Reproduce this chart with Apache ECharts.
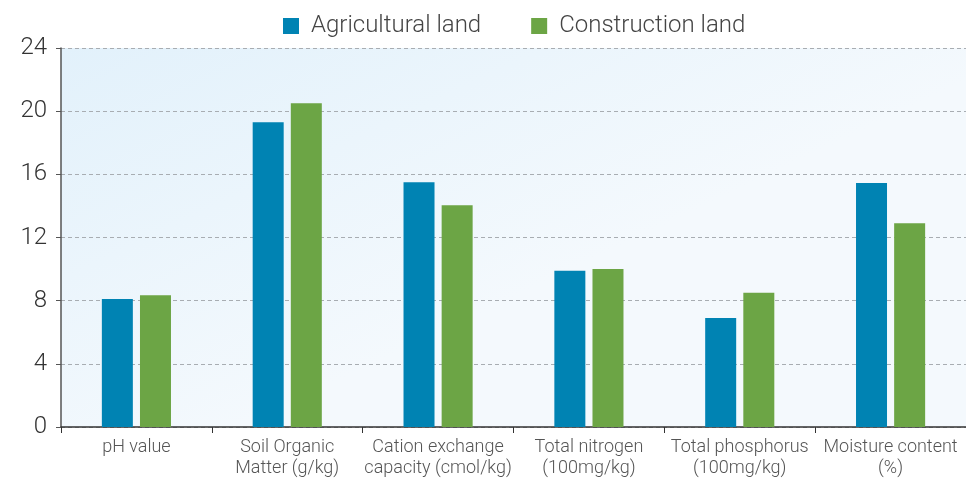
<!DOCTYPE html>
<html><head><meta charset="utf-8">
<script src="https://cdn.jsdelivr.net/npm/echarts@6/dist/echarts.min.js"></script>
<style>html,body{margin:0;padding:0;background:#fff}#c{width:966px;height:479px}</style>
</head><body><div id="c"></div>
<script>
const categories = ['pH value', 'Soil Organic\nMatter (g/kg)', 'Cation exchange\ncapacity (cmol/kg)', 'Total nitrogen\n(100mg/kg)', 'Total phosphorus\n(100mg/kg)', 'Moisture content\n(%)'];
const seriesNames = ['Agricultural land', 'Construction land'];
const agricultural = [8.1, 19.3, 15.5, 9.9, 6.9, 15.45];
const construction = [8.35, 20.5, 14.05, 10.0, 8.5, 12.9];
const yTicks = {min: 0, max: 24, interval: 4};

const chart = echarts.init(document.getElementById('c'));
const FONT = 'Roboto';
chart.setOption({
  animation: false,
  textStyle: {fontFamily: FONT},
  legend: {
    top: 14, left: 283, itemWidth: 16, itemHeight: 16, itemGap: 50,
    icon: 'rect', padding: 0,
    textStyle: {fontSize: 24, color: '#444', fontFamily: FONT, fontWeight: 300, padding: [0, 0, 0, 7]},
    data: seriesNames
  },
  grid: {
    left: 61, right: -1, top: 48, bottom: 52, show: true, borderWidth: 0,
    backgroundColor: new echarts.graphic.LinearGradient(0, 0, 0.2, 1, [
      {offset: 0, color: '#e2f1fb'}, {offset: 1, color: '#f4f9fd'}
    ])
  },
  xAxis: {
    type: 'category', data: categories,
    axisLine: {lineStyle: {color: '#333', width: 1.5}},
    axisTick: {show: true, length: 6, lineStyle: {color: '#333'}},
    axisLabel: {fontSize: 18, color: '#555', lineHeight: 21, margin: 10, interval: 0, fontFamily: FONT, fontWeight: 300}
  },
  yAxis: {
    type: 'value', min: yTicks.min, max: yTicks.max, interval: yTicks.interval,
    axisLine: {show: true, lineStyle: {color: '#555', width: 1.5}},
    axisTick: {show: true, length: 5, lineStyle: {color: '#555'}},
    axisLabel: {fontSize: 24, color: '#333', margin: 14, fontFamily: FONT, fontWeight: 300},
    splitLine: {lineStyle: {type: [4, 3], color: '#a8adb2'}}
  },
  series: [
    {name: seriesNames[0], type: 'bar', data: agricultural, barWidth: 31, barGap: '23%',
     itemStyle: {color: '#0083b3'}},
    {name: seriesNames[1], type: 'bar', data: construction, barWidth: 31,
     itemStyle: {color: '#6ca545'}}
  ]
});
</script></body></html>
